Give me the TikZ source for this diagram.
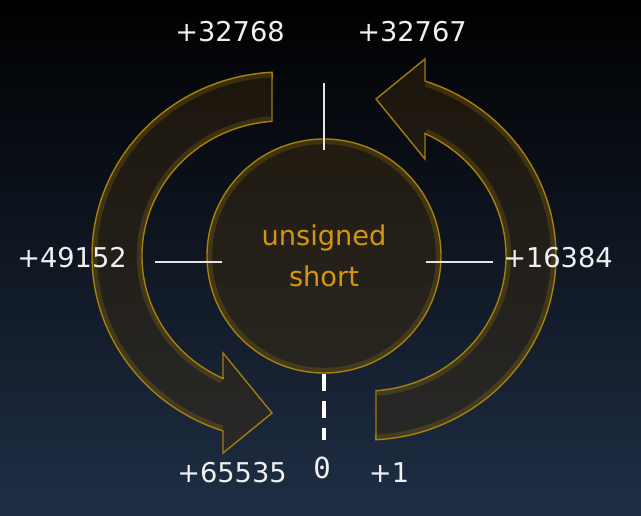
\documentclass[tikz,border=0pt]{standalone}
\usepackage{fontspec}
\setmainfont{DejaVu Sans}
\newfontfamily\zerofont{DejaVu Sans Mono}
\usepackage{tikz}
\usetikzlibrary{positioning, calc}

\definecolor{bgtop}{RGB}{0,0,0}
\definecolor{bgmid}{RGB}{11,18,30}
\definecolor{bgbot}{RGB}{31,46,69}
\definecolor{ringfill}{RGB}{58,42,16}
\definecolor{rim}{RGB}{160,125,12}
\definecolor{glow}{RGB}{205,160,12}
\definecolor{goldtext}{RGB}{214,150,12}
\definecolor{labeltext}{RGB}{240,240,240}

\begin{document}
\begin{tikzpicture}[
    lbl/.style={text=labeltext, font=\fontsize{15.5}{18}\selectfont, inner sep=0pt},
    core/.style={circle, minimum size=4.68cm, fill=ringfill, fill opacity=0.5, text opacity=1,
                 draw=rim, line width=0.8pt, align=center, text=goldtext,
                 font=\fontsize{15.5}{23}\selectfont},
    band/.style={fill=ringfill, fill opacity=0.45, draw=rim, line width=0.8pt, line join=miter},
    glowline/.style={draw=glow, draw opacity=0.18, line width=3pt},
    tickline/.style={draw=white!80!gray, line width=0.8pt},
    zeroline/.style={draw=white, line width=1.9pt, dash pattern=on 0.34cm off 0.2cm}
]
\useasboundingbox (-6.48,-5.18) rectangle (6.34,5.12);
\shade[top color=bgtop, middle color=bgmid, bottom color=bgbot] (-6.48,-5.18) rectangle (6.34,5.12);

\foreach \r in {0,180}{
  \begin{scope}[rotate=\r]
    \path[band] (-0.84,0) ++(93:3.8 and 3.68)
        arc[start angle=93, end angle=251.9, x radius=3.8, y radius=3.68]
        -- (-2.02,-3.94) -- (-1.04,-3.14) -- (-2.02,-1.94) -- (-2.019,-2.449)
        arc[start angle=245.1, end angle=94.1, x radius=2.8, y radius=2.7] -- cycle;
    \path[glowline] (-0.84,0) ++(93:3.75 and 3.63)
        arc[start angle=93, end angle=251.5, x radius=3.75, y radius=3.63];
    \path[glowline] (-0.84,0) ++(245:2.85 and 2.75)
        arc[start angle=245, end angle=94.5, x radius=2.85, y radius=2.75];
  \end{scope}
}

\node[core] (core) at (0,0) {unsigned\\short};
\draw[glowline] (core.center) circle (2.29);

\coordinate (tN1) at (0,3.46);
\coordinate (tN2) at (0,2.12);
\coordinate (tW1) at (-3.38,-0.12);
\coordinate (tW2) at (-2.04,-0.12);
\coordinate (tE1) at (2.04,-0.12);
\coordinate (tE2) at (3.38,-0.12);
\coordinate (zend) at (0,-3.68);

\draw[tickline] (tN1) -- (tN2);
\draw[tickline] (tW1) -- (tW2);
\draw[tickline] (tE1) -- (tE2);
\draw[zeroline] (core.south) -- (zend);

\node[lbl] (l32768) at (-1.88, 4.48) {+32768};
\node[lbl] (l32767) at ( 1.76, 4.48) {+32767};
\node[lbl] (l49152) at (-5.04,-0.04) {+49152};
\node[lbl] (l16384) at ( 4.68,-0.04) {+16384};
\node[lbl] (l65535) at (-1.84,-4.34) {+65535};
\node[lbl] (l0)     at (-0.04,-4.24) {\zerofont\fontsize{16.5}{18}\selectfont 0};
\node[lbl] (l1)     at ( 1.30,-4.34) {+1};
\end{tikzpicture}
\end{document}
